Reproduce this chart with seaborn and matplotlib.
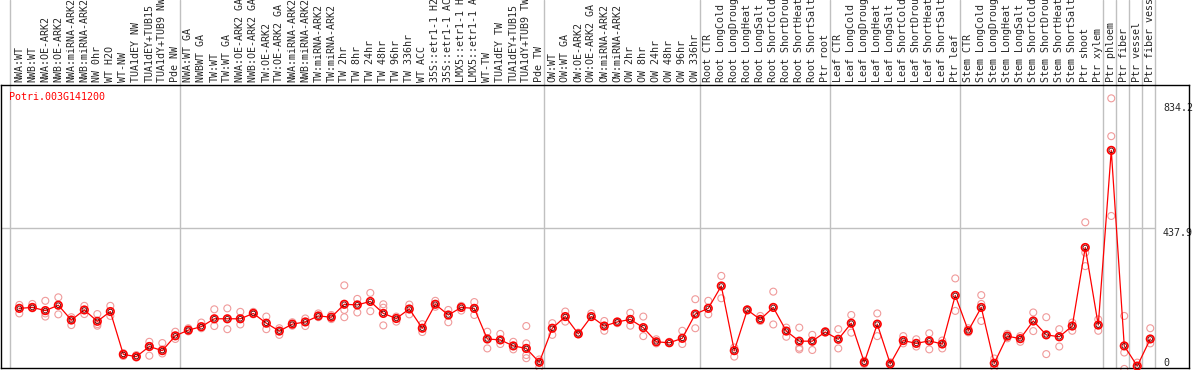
import matplotlib
matplotlib.use("Agg")
import matplotlib.pyplot as plt
import seaborn as sns
import pandas as pd

# ---------------- data ----------------
title = "Potri.003G141200"

categories = [
    "NWA:WT", "NWB:WT", "NWA:OE-ARK2", "NWB:OE-ARK2", "NWA:miRNA-ARK2", "NWB:miRNA-ARK2",
    "NW 0hr", "WT H2O", "WT-NW", "TUA1dEY NW", "TUA1dEY+TUB15", "TUA1dY+TUB9 NW", "Pde NW",
    "NWA:WT GA", "NWBWT GA", "TW:WT", "TW:WT GA", "NWA:OE-ARK2 GA", "NWB:OE-ARK2 GA",
    "TW:OE-ARK2", "TW:OE-ARK2 GA", "NWA:miRNA-ARK2", "NWB:miRNA-ARK2", "TW:miRNA-ARK2",
    "TW:miRNA-ARK2", "TW 2hr", "TW 8hr", "TW 24hr", "TW 48hr", "TW 96hr", "TW 336hr",
    "WT ACC", "35S::etr1-1 H2", "35S::etr1-1 AC", "LMX5::etr1-1 H", "LMX5::etr1-1 A",
    "WT-TW", "TUA1dEY TW", "TUA1dEY+TUB15", "TUA1dY+TUB9 TW", "Pde TW",
    "OW:WT", "OW:WT GA", "OW:OE-ARK2", "OW:OE-ARK2 GA", "OW:miRNA-ARK2", "OW:miRNA-ARK2",
    "OW 2hr", "OW 8hr", "OW 24hr", "OW 48hr", "OW 96hr", "OW 336hr",
    "Root CTR", "Root LongCold", "Root LongDroug", "Root LongHeat", "Root LongSalt",
    "Root ShortCold", "Root ShortDrou", "Root ShortHeat", "Root ShortSalt", "Ptr root",
    "Leaf CTR", "Leaf LongCold", "Leaf LongDroug", "Leaf LongHeat", "Leaf LongSalt",
    "Leaf ShortCold", "Leaf ShortDrou", "Leaf ShortHeat", "Leaf ShortSalt", "Ptr leaf",
    "Stem CTR", "Stem LongCold", "Stem LongDroug", "Stem LongHeat", "Stem LongSalt",
    "Stem ShortCold", "Stem ShortDrou", "Stem ShortHeat", "Stem ShortSalt", "Ptr shoot",
    "Ptr xylem", "Ptr phloem", "Ptr fiber", "Ptr vessel", "Ptr fiber vess",
]

means = [
    184, 187, 177, 194, 147, 179, 143, 174, 38, 31, 63, 50, 97,
    115, 126, 151, 151, 151, 168, 137, 112, 134, 141, 160, 156, 197, 195, 206, 168,
    152, 182, 121, 197, 163, 187, 184, 87, 84, 65, 57, 13,
    121, 158, 103, 158, 128, 141, 149, 123, 78, 75, 89, 166,
    184, 255, 50, 179, 149, 187, 112, 80, 80, 109,
    86, 137, 13, 134, 8, 82, 73, 81, 71, 225,
    113, 187, 10, 96, 88, 144, 100, 94, 128, 377, 131,
    685, 65, 1, 87,
]

replicates = [
    [195, 168], [198, 184], [208, 158, 168], [219, 165], [156, 131], [192, 166],
    [166, 129, 134], [192, 160], [42, 33], [36, 28], [78, 34, 65], [74, 41, 54], [110, 87],
    [121, 111], [139, 121], [181, 128], [184, 118], [173, 133], [173, 165], [158, 118],
    [121, 100], [140, 129], [152, 128], [168, 156], [163, 150], [257, 156, 179], [214, 171],
    [233, 175], [197, 130, 186], [158, 142], [196, 165], [134, 109], [208, 189], [179, 140],
    [192, 177], [204, 163], [110, 57], [103, 71], [78, 54], [128, 73, 36, 26], [22, -3],
    [137, 100], [174, 142], [107], [168], [144, 113], [137], [170, 129], [158, 96],
    [86, 73], [78], [113, 71], [213, 121],
    [208, 165], [287, 216], [60, 31], [181], [160, 144], [237, 133], [123, 94],
    [123, 59, 54], [100, 52], [112],
    [118, 57], [163, 107], [18, 8], [168, 96], [13], [96, 73], [86, 63], [105, 54],
    [82, 57], [279, 176],
    [121, 108], [226, 198, 144], [25, -3], [103, 89], [96, 78], [171, 112], [156, 39],
    [118, 63], [139, 113], [457, 361, 318], [149, 113],
    [850, 730, 477], [160, 44, -8], [12], [121, 73],
]

yticks = [0, 437.9, 834.2]
group_bounds = [-0.7, 12.37, 40.37, 52.4, 62.38, 72.37, 83.37, 84.4, 85.38, 86.37, 87.4]

# ---------------- frames ----------------
idx = list(range(len(categories)))
df_mean = pd.DataFrame({"pos": idx, "value": means})
rep_pos = [i for i, reps in enumerate(replicates) for _ in reps]
rep_val = [v for reps in replicates for v in reps]
df_rep = pd.DataFrame({"pos": rep_pos, "value": rep_val})

# ---------------- figure ----------------
sns.set_style("white")
plt.rcParams["font.family"] = ["DejaVu Sans Mono", "DejaVu Sans"]
plt.rcParams["font.size"] = 7.2

W, H = 1194, 370
fig = plt.figure(figsize=(W / 100, H / 100), dpi=100)
left_px, right_px, top_px, bot_px = 1, 1189, 85, 368
ax = fig.add_axes([left_px / W, (H - bot_px) / H, (right_px - left_px) / W, (bot_px - top_px) / H])

px_per_unit = 138.1 / 437.9
ymin = -(bot_px - 366.4) / px_per_unit
ymax = (366.4 - top_px) / px_per_unit
ax.set_ylim(ymin, ymax)
ax.set_xlim(-1.41, 89.98)

grey = "#c0c0c0"
# group separator lines extending through the label area
for b in group_bounds:
    ax.axvline(b, ymin=0, ymax=1 + top_px / (bot_px - top_px), color=grey, lw=1.0,
               clip_on=False, zorder=0.5)
ax.hlines(437.9, -1.41, group_bounds[-1], color=grey, lw=1.0, zorder=0.5)

# replicates
sns.scatterplot(data=df_rep, x="pos", y="value", ax=ax, marker="o", s=5.0 ** 2,
                color="#f09a9a", facecolor="none", edgecolor="#f09a9a", linewidth=0.8,
                clip_on=False, zorder=2, legend=False)
# mean line
sns.lineplot(data=df_mean, x="pos", y="value", ax=ax, color="red", lw=0.9, zorder=3,
             legend=False)
# mean markers
sns.scatterplot(data=df_mean, x="pos", y="value", ax=ax, marker="o", s=5.4 ** 2,
                color="red", facecolor="none", edgecolor="red", linewidth=1.2,
                clip_on=False, zorder=4, legend=False)
sns.scatterplot(data=df_mean, x="pos", y="value", ax=ax, marker="o", s=3.3 ** 2,
                color="black", facecolor="none", edgecolor="#600000", linewidth=0.6,
                clip_on=False, zorder=5, legend=False)

# category labels on top
ax.xaxis.tick_top()
ax.set_xticks(idx)
ax.set_xticklabels(categories, rotation=90, fontsize=7.2)
ax.tick_params(axis="x", length=0, pad=2.2)
ax.set_xlabel("")

# value labels on the right, inside the frame
ax.yaxis.tick_right()
ax.set_yticks(yticks)
ax.set_yticklabels([f"{v:g}" for v in yticks], fontsize=7.2)
ax.tick_params(axis="y", length=0, pad=-18.7)
for lab, v in zip(ax.get_yticklabels(), yticks):
    lab.set_verticalalignment("baseline" if v == 0 else "top")
    lab.set_horizontalalignment("left")
ax.set_ylabel("")

for sp in ax.spines.values():
    sp.set_visible(True)
    sp.set_color("black")
    sp.set_linewidth(1.0)

ax.text((9.3 - left_px) / (right_px - left_px), (bot_px - 97) / (bot_px - top_px), title,
        transform=ax.transAxes, color="red", fontsize=7.2, ha="left", va="center", zorder=6)

fig.savefig("out.png", dpi=100)
